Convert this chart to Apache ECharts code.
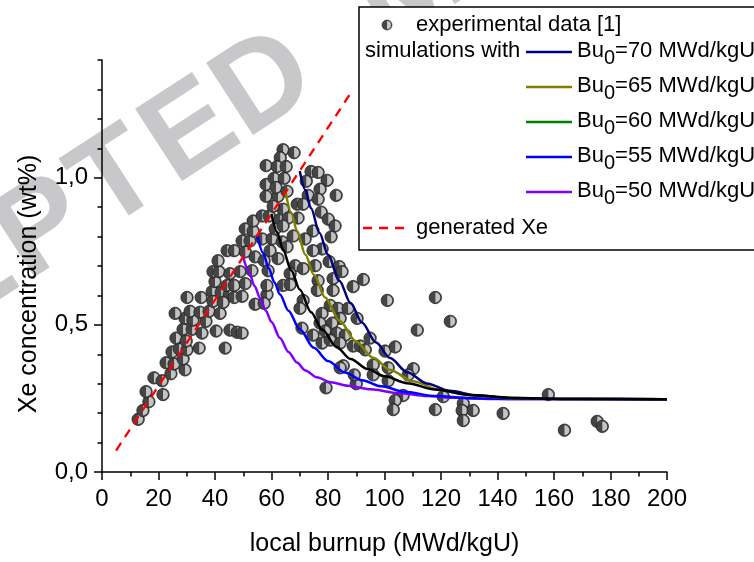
<!DOCTYPE html>
<html><head><meta charset="utf-8">
<script src="https://cdn.jsdelivr.net/npm/echarts@6/dist/echarts.min.js"></script>
<style>html,body{margin:0;padding:0;background:#fff}#c{width:754px;height:562px}</style>
</head><body><div id="c"></div>
<script>
// ---- data ----
const expData = [
[12.8,0.179],[14.5,0.209],[16.6,0.239],[15.6,0.273],[21.6,0.263],[18.4,0.320],[21.3,0.310],[24.4,0.334],[22.7,0.371],[25.5,0.367],
[29.4,0.347],[24.8,0.408],[27.3,0.418],[28.7,0.384],[30.1,0.415],[34.4,0.421],[43.6,0.421],[26.2,0.455],[29.8,0.445],[28.7,0.485],
[31.9,0.485],[35.4,0.472],[40.4,0.479],[45.3,0.482],[47.8,0.475],[29.4,0.522],[32.2,0.516],[36.8,0.512],[25.9,0.539],[31.2,0.546],
[34.7,0.543],[37.9,0.546],[41.8,0.539],[30.1,0.593],[35.1,0.593],[39.0,0.613],[42.2,0.610],[45.0,0.603],[39.3,0.580],[42.9,0.576],
[46.8,0.593],[49.6,0.597],[54.2,0.570],[58.4,0.603],[40.0,0.647],[44.3,0.634],[46.8,0.634],[50.7,0.640],[39.3,0.681],[41.4,0.681],
[45.3,0.674],[48.9,0.681],[53.1,0.684],[41.1,0.718],[44.3,0.752],[46.8,0.752],[50.7,0.748],[54.2,0.731],[57.4,0.718],[58.8,0.684],
[59.5,0.752],[62.3,0.725],[49.6,0.785],[52.4,0.785],[56.7,0.792],[60.2,0.792],[63.8,0.782],[50.7,0.826],[53.5,0.819],[61.3,0.826],
[53.5,0.853],[56.7,0.870],[59.2,0.870],[63.1,0.859],[64.1,0.893],[58.1,0.937],[62.3,0.937],
[64.1,1.095],[68.0,1.085],[63.1,1.068],[58.1,1.041],[62.0,1.038],[65.2,1.038],[74.0,1.021],[76.5,1.018],[79.7,0.991],[58.1,0.977],
[60.9,0.998],[64.5,0.998],[61.6,0.967],[72.3,0.988],[77.2,0.961],[82.9,0.940],[65.5,0.954],[73.0,0.940],[76.5,0.927],[69.1,0.910],
[71.2,0.910],[60.6,0.903],[77.6,0.883],[69.4,0.863],[65.9,0.863],[64.1,0.836],[80.1,0.859],[82.5,0.836],[74.7,0.819],[81.1,0.799],
[71.9,0.792],[67.7,0.802],[65.5,0.765],[77.9,0.758],[74.7,0.752],[80.4,0.715],[68.4,0.701],[71.2,0.691],[75.5,0.701],[84.0,0.698],
[85.0,0.681],[76.5,0.650],[81.8,0.657],[66.6,0.674],[58.4,0.634],[64.1,0.634],[76.2,0.617],[81.8,0.617],[88.9,0.630],[92.5,0.654],
[71.2,0.583],[70.1,0.556],[57.4,0.573],[80.8,0.566],[83.6,0.556],[87.1,0.556],[77.9,0.539],[90.3,0.522],[84.3,0.522],[77.2,0.506],
[81.5,0.506],[70.8,0.489],[74.7,0.465],[79.0,0.479],[83.2,0.472],[86.1,0.465],[77.9,0.438],[80.8,0.448],[84.3,0.438],[88.9,0.428],
[91.4,0.428],[93.2,0.415],[85.4,0.361],[79.3,0.286],[49.6,0.472],[66.6,0.637],[90.0,0.300],[89.3,0.330],[84.3,0.354],
[101.0,0.583],[118.0,0.593],[123.3,0.512],[111.6,0.482],[94.9,0.455],[100.2,0.411],[103.8,0.425],[96.0,0.364],[101.3,0.354],[110.2,0.351],
[108.4,0.330],[96.0,0.330],[101.3,0.310],[106.6,0.260],[103.8,0.243],[103.1,0.212],[118.0,0.212],[120.8,0.256],[127.9,0.233],[127.5,0.209],
[131.4,0.209],[127.9,0.175],[142.0,0.199],[158.0,0.263],[163.7,0.142],[175.3,0.172],[177.1,0.155]
];
const generatedXe = [[5,0.073],[88,1.287]];
const sim70 = [[70,1.023],[72,0.958],[74,0.896],[77,0.812],[80,0.738],[84,0.650],[88,0.574],[92,0.508],[97,0.440],[102,0.387],[108,0.339],[115,0.301],[123,0.276],[133,0.260],[145,0.251],[165,0.248],[200,0.247]];
const sim65 = [[65,0.950],[67,0.882],[69,0.820],[72,0.738],[75,0.670],[79,0.593],[84,0.515],[90,0.443],[96,0.388],[102,0.347],[110,0.308],[120,0.278],[132,0.259],[145,0.251],[165,0.248],[200,0.247]];
const sim60 = [[60,0.877],[62,0.815],[64,0.757],[67,0.685],[70,0.620],[74,0.543],[78,0.483],[83,0.425],[88,0.384],[94,0.350],[100,0.325],[108,0.302],[118,0.280],[130,0.262],[145,0.252],[165,0.248],[200,0.247]];
const sim55 = [[55,0.804],[57,0.745],[59,0.693],[61,0.645],[63,0.603],[66,0.548],[70,0.485],[75,0.422],[80,0.377],[86,0.338],[92,0.312],[99,0.291],[107,0.273],[118,0.258],[130,0.251],[145,0.248],[200,0.247]];
const sim50 = [[50,0.730],[52,0.680],[54,0.632],[56,0.590],[58,0.548],[60,0.510],[63,0.455],[66,0.408],[69,0.372],[72,0.345],[76,0.322],[81,0.305],[87,0.293],[95,0.281],[105,0.268],[115,0.258],[125,0.252],[140,0.248],[200,0.247]];
const legendNames = ['Bu0=70 MWd/kgU','Bu0=65 MWd/kgU','Bu0=60 MWd/kgU','Bu0=55 MWd/kgU','Bu0=50 MWd/kgU'];
const xTickLabels = [0,20,40,60,80,100,120,140,160,180,200];
const yLabelValues = [0,0.5,1.0];
const yMinorValues = [0.1,0.2,0.3,0.4,0.6,0.7,0.8,0.9,1.1,1.2,1.3,1.4];

// ---- chart ----
const FONT = '"Liberation Sans", Arial, sans-serif';
const chart = echarts.init(document.getElementById('c'), null, {renderer:'canvas'});

function dotItem(params, api){
  const p = api.coord([api.value(0), api.value(1)]);
  const r = 6.2;
  return {type:'group', children:[
    {type:'circle', shape:{cx:p[0], cy:p[1], r:r}, style:{fill:'#454545', stroke:'#222', lineWidth:0.8}},
    {type:'sector', shape:{cx:p[0], cy:p[1], r:r-1.3, r0:0, startAngle:-Math.PI/2, endAngle:Math.PI/2, clockwise:true}, style:{fill:'#c4c4c4'}}
  ]};
}

// watermark letters
const wmLetters = ['C','C','E','P','T','E','D',' ','M'];
const ang = 33*Math.PI/180, step = 88;
const dX = 265, dY = 86, dIdx = 6;
const wm = [];
wmLetters.forEach((ch,i)=>{
  if (ch===' ') return;
  const k = i - dIdx;
  wm.push({type:'text', z:-10, x: dX + k*step*Math.cos(ang), y: dY - k*step*Math.sin(ang), rotation: ang,
    style:{text:ch, x:0, y:0, align:'center', verticalAlign:'middle', font:'bold 125px '+FONT, fill:'#c8c8ca'}});
});

// legend graphic
const ctx = document.createElement('canvas').getContext('2d');
const LF = 22, SF = 20;
const lineColors = ['#000080','#808000','#008000','#0000ff','#8000ff'];
const leg = [];
leg.push({type:'rect', z:20, shape:{x:359, y:7, width:420, height:243}, style:{fill:'#fff', stroke:'#000', lineWidth:1.5}});
leg.push({type:'circle', z:21, shape:{cx:387, cy:25, r:5}, style:{fill:'#454545', stroke:'#222', lineWidth:0.6}});
leg.push({type:'sector', z:22, shape:{cx:387, cy:25, r:4, r0:0, startAngle:-Math.PI/2, endAngle:Math.PI/2, clockwise:true}, style:{fill:'#c4c4c4'}});
leg.push({type:'text', z:21, style:{text:'experimental data [1]', x:416, y:25, verticalAlign:'middle', font:LF+'px '+FONT, fill:'#000'}});
leg.push({type:'text', z:21, style:{text:'simulations with', x:365, y:51, verticalAlign:'middle', font:LF+'px '+FONT, fill:'#000'}});
legendNames.forEach((nm,i)=>{
  const y = 52 + 35*i;
  leg.push({type:'line', z:21, shape:{x1:526, y1:y, x2:572, y2:y}, style:{stroke:lineColors[i], lineWidth:2.3}});
  const m = nm.match(/^(Bu)(0)(.*)$/);
  ctx.font = LF+'px '+FONT;
  const w1 = ctx.measureText(m[1]).width;
  ctx.font = SF+'px '+FONT;
  const w2 = ctx.measureText(m[2]).width;
  leg.push({type:'text', z:21, style:{text:m[1], x:577, y:y-1, verticalAlign:'middle', font:LF+'px '+FONT, fill:'#000'}});
  leg.push({type:'text', z:21, style:{text:m[2], x:577+w1, y:y+6, verticalAlign:'middle', font:SF+'px '+FONT, fill:'#000'}});
  leg.push({type:'text', z:21, style:{text:m[3], x:577+w1+w2, y:y-1, verticalAlign:'middle', font:LF+'px '+FONT, fill:'#000'}});
});
leg.push({type:'line', z:21, shape:{x1:363, y1:228, x2:410, y2:228}, style:{stroke:'#ff0000', lineWidth:2.3, lineDash:[9,7]}});
leg.push({type:'text', z:21, style:{text:'generated Xe', x:416, y:228, verticalAlign:'middle', font:LF+'px '+FONT, fill:'#000'}});

function simSeries(name, data, color){
  return {name:name, type:'line', data:data, showSymbol:false, smooth:0.3, smoothMonotone:'x',
    lineStyle:{color:color, width:2.5}, itemStyle:{color:color}, z:4, silent:true};
}

const option = {
  animation:false,
  backgroundColor:'#fff',
  grid:{left:102, right:87, top:60, bottom:87, containLabel:false},
  xAxis:{type:'value', min:0, max:200, interval:20,
    axisLine:{lineStyle:{color:'#000', width:1.5}},
    axisTick:{length:8, lineStyle:{color:'#000', width:1.5}},
    minorTick:{show:true, splitNumber:2, length:4.5, lineStyle:{color:'#000', width:1.5}},
    splitLine:{show:false}, minorSplitLine:{show:false},
    axisLabel:{fontSize:24, color:'#000', margin:15, fontFamily:FONT, customValues: xTickLabels},
    name:'local burnup (MWd/kgU)', nameLocation:'middle', nameGap:60,
    nameTextStyle:{fontSize:25, color:'#000', fontFamily:FONT}},
  yAxis:[
    {type:'value', min:0, max:1.4, position:'left',
     axisLine:{show:true, lineStyle:{color:'#000', width:1.5}},
     axisTick:{show:true, length:8, lineStyle:{color:'#000', width:1.5}, customValues: yLabelValues},
     splitLine:{show:false},
     axisLabel:{fontSize:24, color:'#000', margin:14, fontFamily:FONT, customValues: yLabelValues,
       formatter: v => v.toFixed(1).replace('.', ',')},
     name:'Xe concentration (wt%)', nameLocation:'middle', nameGap:60,
     nameTextStyle:{fontSize:25, color:'#000', fontFamily:FONT, padding:[0,36,0,0]}},
    {type:'value', min:0, max:1.4, position:'left', offset:0,
     axisLine:{show:false},
     axisTick:{show:true, length:4.5, lineStyle:{color:'#000', width:1.5}, customValues: yMinorValues},
     axisLabel:{show:false}, splitLine:{show:false}}
  ],
  graphic: wm.concat(leg),
  series:[
    {name:'experimental data [1]', type:'custom', renderItem:dotItem, data:expData, encode:{x:0, y:1}, z:2, silent:true},
    simSeries(legendNames[4], sim50, '#8000ff'),
    simSeries(legendNames[3], sim55, '#0000ff'),
    simSeries(legendNames[1], sim65, '#808000'),
    simSeries(legendNames[0], sim70, '#000080'),
    simSeries(legendNames[2], sim60, '#000000'),
    {name:'generated Xe', type:'line', data:generatedXe, showSymbol:false, z:5, silent:true,
     lineStyle:{color:'#ff0000', width:2.3, type:[9,7]}}
  ]
};
chart.setOption(option);
</script>
</body></html>
